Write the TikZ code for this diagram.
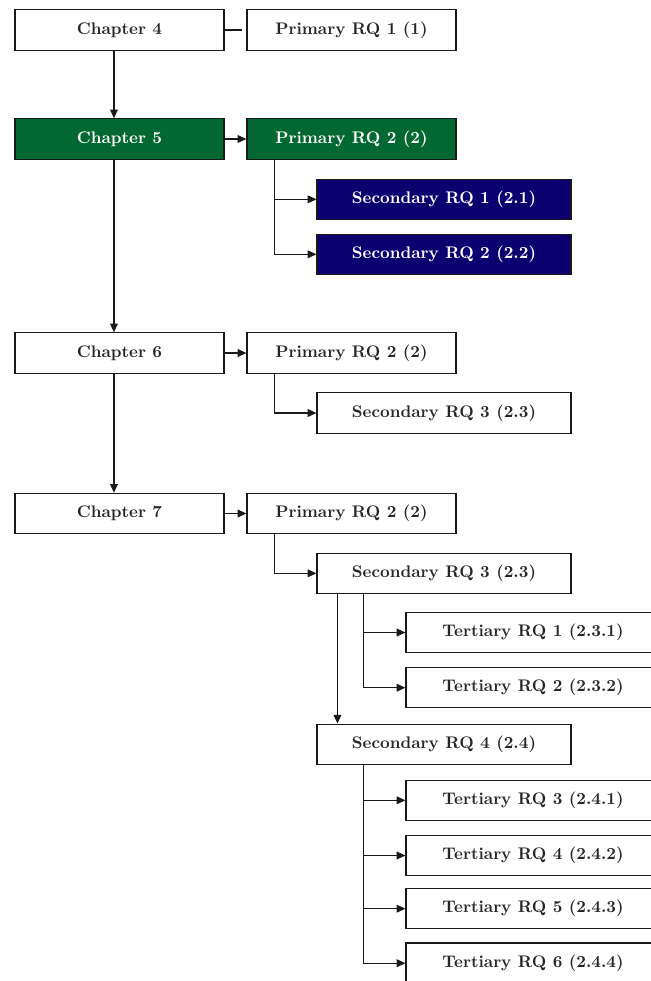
\documentclass[tikz,border=0pt]{standalone}
\usetikzlibrary{arrows.meta}
\definecolor{rqgreen}{RGB}{0,104,48}
\definecolor{rqnavy}{RGB}{12,0,112}
\begin{document}
\begin{tikzpicture}[x=0.595pt,y=-0.595pt,
  box/.style={draw=black!90, line width=0.7pt, minimum height=24pt, inner sep=0pt, font=\bfseries, text=black!85},
  chbox/.style={box, minimum width=124.4pt},
  pbox/.style={box, minimum width=124.4pt},
  sbox/.style={box, minimum width=151.1pt},
  tbox/.style={box, minimum width=151.1pt},
  hlgreen/.style={fill=rqgreen, text=white},
  hlnavy/.style={fill=rqnavy, text=white},
  arr/.style={draw=black!90, line width=0.7pt, -{Triangle[length=5.2pt,width=4.6pt]}},
  ln/.style={draw=black!90, line width=0.7pt}]
\useasboundingbox (0,0) rectangle (651,981);
\clip (0,0) rectangle (651,981);

\node[chbox] (c4) at (119.5,30) {Chapter 4};
\node[pbox] (p1) at (351.5,30) {Primary RQ 1 (1)};

\node[chbox,hlgreen] (c5) at (119.5,139) {Chapter 5};
\node[pbox,hlgreen] (p2a) at (351.5,139) {Primary RQ 2 (2)};
\node[sbox,hlnavy] (s1) at (444,199.3) {Secondary RQ 1 (2.1)};
\node[sbox,hlnavy] (s2) at (444,254.3) {Secondary RQ 2 (2.2)};

\node[chbox] (c6) at (119.5,353) {Chapter 6};
\node[pbox] (p2b) at (351.5,353) {Primary RQ 2 (2)};
\node[sbox] (s3a) at (444,413) {Secondary RQ 3 (2.3)};

\node[chbox] (c7) at (119.5,513.5) {Chapter 7};
\node[pbox] (p2c) at (351.5,513.5) {Primary RQ 2 (2)};
\node[sbox] (s3b) at (444,573.3) {Secondary RQ 3 (2.3)};
\node[tbox] (t1) at (533,632.5) {Tertiary RQ 1 (2.3.1)};
\node[tbox] (t2) at (533,687.7) {Tertiary RQ 2 (2.3.2)};
\node[sbox] (s4) at (444,744.3) {Secondary RQ 4 (2.4)};
\node[tbox] (t3) at (533,800.3) {Tertiary RQ 3 (2.4.1)};
\node[tbox] (t4) at (533,855.5) {Tertiary RQ 4 (2.4.2)};
\node[tbox] (t5) at (533,908.7) {Tertiary RQ 5 (2.4.3)};
\node[tbox] (t6) at (533,963.2) {Tertiary RQ 6 (2.4.4)};

% chapter 4
\draw[ln, shorten >=2.4pt] (c4.east) -- (p1.west);
\draw[arr] ([xshift=-3.3pt]c4.south) -- ([xshift=-3.3pt]c5.north);

% chapter 5
\draw[arr] (c5.east) -- (p2a.west);
\draw[arr] ([xshift=16.7pt]p2a.south west) |- (s1.west);
\draw[arr] ([xshift=16.7pt]p2a.south west) |- (s2.west);
\draw[arr] ([xshift=-3.3pt]c5.south) -- ([xshift=-3.3pt]c6.north);

% chapter 6
\draw[arr] (c6.east) -- (p2b.west);
\draw[arr] ([xshift=16.7pt]p2b.south west) |- (s3a.west);
\draw[arr] ([xshift=-3.3pt]c6.south) -- ([xshift=-3.3pt]c7.north);

% chapter 7
\draw[arr] (c7.east) -- (p2c.west);
\draw[arr] ([xshift=16.7pt]p2c.south west) |- (s3b.west);
\draw[arr] ([xshift=28pt]s3b.south west) |- (t1.west);
\draw[arr] ([xshift=28pt]s3b.south west) |- (t2.west);
\draw[arr] ([xshift=12.5pt]s3b.south west) -- ([xshift=12.5pt]s4.north west);
\draw[arr] ([xshift=28pt]s4.south west) |- (t3.west);
\draw[arr] ([xshift=28pt]s4.south west) |- (t4.west);
\draw[arr] ([xshift=28pt]s4.south west) |- (t5.west);
\draw[arr] ([xshift=28pt]s4.south west) |- (t6.west);
\end{tikzpicture}
\end{document}
